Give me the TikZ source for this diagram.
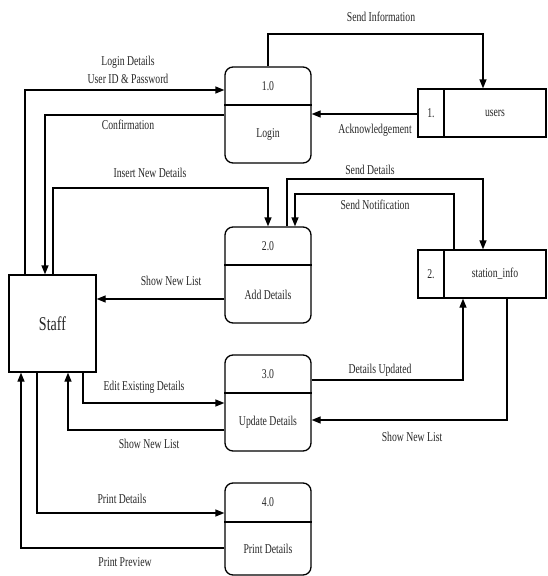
\documentclass[tikz,border=0pt]{standalone}
\usepackage{fontspec}
\setmainfont[FakeStretch=0.72]{Liberation Serif}
\usetikzlibrary{arrows.meta}
\begin{document}
\begin{tikzpicture}[x=1pt,y=-1pt,
  line width=1.3pt,
  flow/.style={draw,-{Triangle[length=9pt,width=7pt]}},
  proc/.style={draw,rounded corners=8pt,minimum width=86pt,minimum height=96pt,inner sep=0pt},
  store/.style={draw,minimum width=128pt,minimum height=48pt,inner sep=0pt},
  lbl/.style={font=\fontsize{13.5}{15}\selectfont,inner sep=0pt,text=black!85},
  ptxt/.style={font=\fontsize{13.5}{15}\selectfont,inner sep=0pt,text=black!85}]
\useasboundingbox (0,0) rectangle (547,576);
% processes
\node[proc] (p1) at (268,115) {};
\node[proc] (p2) at (268,275) {};
\node[proc] (p3) at (268,403) {};
\node[proc,minimum height=92pt] (p4) at (268,529) {};
\draw (p1.west |- 0,105) -- (p1.east |- 0,105);
\draw (p2.west |- 0,265) -- (p2.east |- 0,265);
\draw (p3.west |- 0,393) -- (p3.east |- 0,393);
\draw (p4.west |- 0,522) -- (p4.east |- 0,522);
\node[ptxt] (p1n) at (268,86) {1.0};
\node[ptxt] (p1t) at (268,134) {Login};
\node[ptxt] (p2n) at (268,246) {2.0};
\node[ptxt] (p2t) at (268,295) {Add Details};
\node[ptxt] (p3n) at (268,374) {3.0};
\node[ptxt] (p3t) at (268,422) {Update Details};
\node[ptxt] (p4n) at (268,502) {4.0};
\node[ptxt] (p4t) at (268,549) {Print Details};
% stores
\node[store] (users) at (482,113) {};
\draw (444,89) -- (444,137);
\node[ptxt] (usersn) at (431,113) {1.};
\node[ptxt] (userst) at (495,113) {users};
\node[store] (station) at (482,274) {};
\draw (444,250) -- (444,298);
\node[ptxt] (stationn) at (431,274) {2.};
\node[ptxt] (stationt) at (495,274) {station\_info};
% staff
\node[draw,minimum width=87pt,minimum height=97pt,inner sep=0pt,font=\fontsize{19.5}{21}\selectfont,text=black!85] (staff) at (52.5,323.5) {Staff};
% flows
\draw[flow] (staff.north -| 25,0) -- (25,90) -- (p1.west |- 0,90);
\draw[flow] (p1.west |- 0,115) -- (45,115) -- (staff.north -| 45,0);
\draw[flow] (staff.north -| 53,0) -- (53,188) -- (268,188) -- (p2.north);
\draw[flow] (p1.north) -- (268,34) -- (483,34) -- (users.north -| 483,0);
\draw[flow] (users.west |- 0,114) -- (p1.east |- 0,114);
\draw[flow] (p2.west |- 0,299) -- (staff.east |- 0,299);
\draw[flow] (p2.north -| 287,0) -- (287,179) -- (483,179) -- (station.north -| 483,0);
\draw[flow] (station.north -| 454,0) -- (454,194) -- (295,194) -- (p2.north -| 295,0);
\draw[flow] (p3.east |- 0,380) -- (463,380) -- (station.south -| 463,0);
\draw[flow] (station.south -| 507,0) -- (507,420) -- (p3.east |- 0,420);
\draw[flow] (staff.south -| 83,0) -- (83,403) -- (p3.west |- 0,403);
\draw[flow] (p3.west |- 0,430) -- (68,430) -- (staff.south -| 68,0);
\draw[flow] (staff.south -| 37,0) -- (37,513) -- (p4.west |- 0,513);
\draw[flow] (p4.west |- 0,548) -- (21,548) -- (staff.south -| 21,0);
% labels
\node[lbl] (l1) at (128,62) {Login Details};
\node[lbl] (l2) at (128,79) {User ID \& Password};
\node[lbl] (l3) at (128,125) {Confirmation};
\node[lbl] (l4) at (150,173) {Insert New Details};
\node[lbl] (l5) at (381,17) {Send Information};
\node[lbl] (l6) at (375,130) {Acknowledgement};
\node[lbl] (l7) at (171,281) {Show New List};
\node[lbl] (l8) at (370,170) {Send Details};
\node[lbl] (l9) at (375,205) {Send Notification};
\node[lbl] (l10) at (380,370) {Details Updated};
\node[lbl] (l11) at (412,437) {Show New List};
\node[lbl] (l12) at (144,387) {Edit Existing Details};
\node[lbl] (l13) at (149,444) {Show New List};
\node[lbl] (l14) at (122,499) {Print Details};
\node[lbl] (l15) at (125,562) {Print Preview};
\end{tikzpicture}
\end{document}
